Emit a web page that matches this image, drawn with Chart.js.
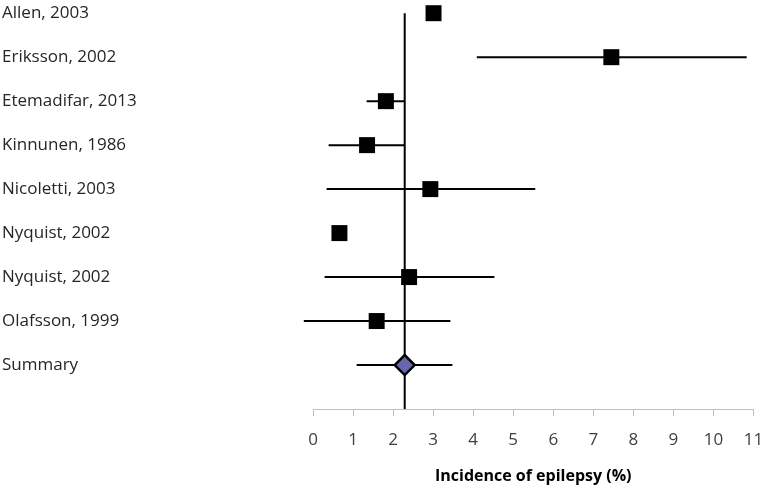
<!DOCTYPE html>
<html>
<head>
<meta charset="utf-8">
<script src="https://cdn.jsdelivr.net/npm/chart.js@4.4.1/dist/chart.umd.min.js"></script>
<style>
  html, body { margin: 0; padding: 0; background: #ffffff; }
  #wrap { width: 766px; height: 489px; position: relative; }
</style>
</head>
<body>
<div id="wrap"><canvas id="c"></canvas></div>
<script>
const studies = ["Allen, 2003", "Eriksson, 2002", "Etemadifar, 2013", "Kinnunen, 1986",
  "Nicoletti, 2003", "Nyquist, 2002", "Nyquist, 2002", "Olafsson, 1999", "Summary"];
const estimates = [3.01, 7.45, 1.82, 1.35, 2.93, 0.66, 2.40, 1.59, 2.29];
const ciLow  = [2.90, 4.09, 1.34, 0.39, 0.34, 0.50, 0.29, -0.23, 1.09];
const ciHigh = [3.10, 10.83, 2.29, 2.29, 5.55, 0.82, 4.53, 3.43, 3.48];
const summaryValue = 2.29;
const xTicks = [0, 1, 2, 3, 4, 5, 6, 7, 8, 9, 10, 11];
const axisTitle = "Incidence of epilepsy (%)";

const n = studies.length;
const datasets = [];

// confidence-interval whiskers
for (let i = 0; i < n; i++) {
  datasets.push({
    type: 'line',
    data: [{ x: ciLow[i], y: i }, { x: ciHigh[i], y: i }],
    borderColor: '#000000',
    borderWidth: 2,
    pointRadius: 0,
    clip: false,
    order: 2
  });
}
// reference (summary) vertical line
datasets.push({
  type: 'line',
  data: [{ x: summaryValue, y: 0 }, { x: summaryValue, y: n }],
  borderColor: '#000000',
  borderWidth: 2,
  pointRadius: 0,
  clip: false,
  order: 3
});
// study squares
datasets.push({
  type: 'scatter',
  data: estimates.slice(0, n - 1).map((v, i) => ({ x: v, y: i })),
  pointStyle: 'rect',
  pointRadius: 11.3,
  pointHoverRadius: 11.3,
  backgroundColor: '#000000',
  borderColor: '#000000',
  borderWidth: 0,
  clip: false,
  order: 1
});
// summary diamond
datasets.push({
  type: 'scatter',
  data: [{ x: estimates[n - 1], y: n - 1 }],
  pointStyle: 'rectRot',
  pointRadius: 10,
  pointHoverRadius: 10,
  backgroundColor: '#6767ab',
  borderColor: '#000000',
  borderWidth: 2.5,
  clip: false,
  order: 0
});

new Chart(document.getElementById('c'), {
  type: 'scatter',
  data: { datasets },
  options: {
    responsive: true,
    maintainAspectRatio: false,
    animation: false,
    layout: { padding: { left: 2, right: 12, top: 0, bottom: 0 } },
    plugins: { legend: { display: false }, tooltip: { enabled: false } },
    scales: {
      x: {
        type: 'linear',
        min: 0, max: 11,
        afterBuildTicks: (s) => { s.ticks = xTicks.map(v => ({ value: v })); },
        afterFit: (s) => { s.height = 80; s.paddingLeft = 0; s.paddingRight = 0; },
        grid: { display: true, drawOnChartArea: false, drawTicks: true, tickLength: 7, color: '#bfbfbf', lineWidth: 1 },
        border: { display: true, color: '#bfbfbf', width: 1 },
        ticks: { padding: 14, maxRotation: 0, color: '#404040', font: { family: 'Open Sans', size: 17 } },
        title: { display: true, text: axisTitle, color: '#000000', font: { family: 'Open Sans', size: 16, weight: 'bold' }, padding: { top: 4, bottom: 3 } }
      },
      y: {
        type: 'linear',
        reverse: true,
        min: 0, max: n,
        afterBuildTicks: (s) => { s.ticks = studies.map((_, i) => ({ value: i })); },
        afterFit: (s) => { s.width = 311; },
        grid: { display: false },
        border: { display: false },
        ticks: {
          crossAlign: 'far',
          color: '#262626',
          font: { family: 'Open Sans', size: 17 },
          callback: (v) => studies[v] ?? ''
        }
      }
    }
  }
});
</script>
</body>
</html>
